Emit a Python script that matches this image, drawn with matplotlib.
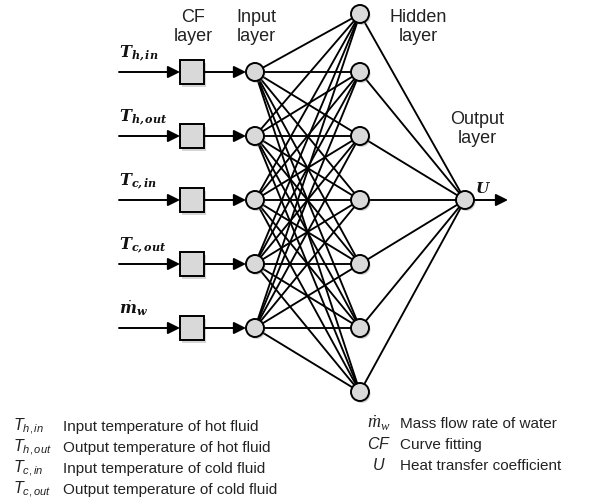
"""ANN schematic: CF layer -> input layer -> hidden layer -> output U"""

import matplotlib

matplotlib.use("Agg")
import matplotlib.pyplot as plt
from matplotlib.patches import Circle, Rectangle

plt.rcParams["font.family"] = ["Liberation Sans", "DejaVu Sans"]
plt.rcParams["mathtext.fontset"] = "custom"
plt.rcParams["mathtext.rm"] = "Liberation Sans"
plt.rcParams["mathtext.it"] = "Liberation Sans:italic"
plt.rcParams["mathtext.bf"] = "DejaVu Serif:italic:bold"
plt.rcParams["mathtext.sf"] = "Liberation Serif:italic"

# network structure
input_labels = [
    r"$\mathbf{T}_{\mathbf{h,in}}$",
    r"$\mathbf{T}_{\mathbf{h,out}}$",
    r"$\mathbf{T}_{\mathbf{c,in}}$",
    r"$\mathbf{T}_{\mathbf{c,out}}$",
    r"$\dot{\mathbf{m}}_{\mathbf{w}}$",
]
n_hidden = 7
output_label = r"$\mathbf{U}$"
layer_titles = [("CF", "layer"), ("Input", "layer"), ("Hidden", "layer"), ("Output", "layer")]

# legend
legend_left_sym = [r"$T_{h,in}$", r"$T_{h,out}$", r"$T_{c,in}$", r"$T_{c,out}$"]
legend_left_txt = [
    "Input temperature of hot fluid",
    "Output temperature of hot fluid",
    "Input temperature of cold fluid",
    "Output temperature of cold fluid",
]
legend_right_sym = [r"$\dot{\mathsf{m}}_{\mathsf{w}}$", r"$CF$", r"$U$"]
legend_right_txt = ["Mass flow rate of water", "Curve fitting", "Heat transfer coefficient"]

# layout (pixel units)
W, H = 608, 502
x_start, x_box, x_in, x_hid, x_out = 119, 192, 255, 360, 465
y_in0, dy_in = 73, 64
y_hid = [15, 73, 137, 201, 265, 329, 393]
y_out = 201
r = 9
box = 24
fill = "#d9d9d9"
lw = 1.35

fig = plt.figure(figsize=(W / 100, H / 100), dpi=100)
ax = fig.add_axes([0, 0, 1, 1])
ax.set_xlim(0, W)
ax.set_ylim(H, 0)
ax.axis("off")

y_in = [y_in0 + i * dy_in for i in range(len(input_labels))]

# connections
for yi in y_in:
    for yh in y_hid[:n_hidden]:
        ax.plot([x_in, x_hid], [yi, yh], color="black", lw=lw, zorder=1)
for yh in y_hid[:n_hidden]:
    ax.plot([x_hid, x_out], [yh, y_out], color="black", lw=lw, zorder=1)

arrow = dict(arrowstyle="-|>,head_length=0.6,head_width=0.3", color="black",
             lw=1.4, mutation_scale=12, shrinkA=0, shrinkB=0)


def node(x, y):
    ax.add_patch(Circle((x + 1.5, y + 2), r, facecolor="#888888", edgecolor="none",
                        alpha=0.35, zorder=2))
    ax.add_patch(Circle((x, y), r, facecolor=fill, edgecolor="black", lw=1.4, zorder=3))


for lab, yi in zip(input_labels, y_in):
    ax.annotate("", xy=(x_box - box / 2, yi), xytext=(x_start, yi), arrowprops=arrow, zorder=4)
    ax.add_patch(Rectangle((x_box - box / 2 + 1.5, yi - box / 2 + 2.5), box, box,
                           facecolor="#888888", edgecolor="none", alpha=0.35, zorder=2))
    ax.add_patch(Rectangle((x_box - box / 2, yi - box / 2), box, box, facecolor=fill,
                           edgecolor="black", lw=1.4, zorder=3))
    ax.annotate("", xy=(x_in - r, yi), xytext=(x_box + box / 2, yi), arrowprops=arrow, zorder=4)
    node(x_in, yi)
    ax.text(x_start, yi - 16, lab, fontsize=11.5, ha="left", va="baseline", color="#111111")

for yh in y_hid[:n_hidden]:
    node(x_hid, yh)
node(x_out, y_out)
ax.annotate("", xy=(508, y_out), xytext=(x_out + r, y_out), arrowprops=arrow, zorder=4)
ax.text(483, y_out - 8, output_label, fontsize=11, ha="center", va="baseline", color="#111111")

# layer titles
title_pos = [(193, 22), (256, 22), (418, 22), (477, 124)]
for (l1, l2), (tx, ty) in zip(layer_titles, title_pos):
    ax.text(tx, ty, l1, fontsize=13, ha="center", va="baseline", color="#222222")
    ax.text(tx, ty + 19, l2, fontsize=13, ha="center", va="baseline", color="#222222")

# legend
for i, (s, t) in enumerate(zip(legend_left_sym, legend_left_txt)):
    yb = 431 + 21 * i
    ax.text(13, yb, s, fontsize=11.5, ha="left", va="baseline", color="#222222")
    ax.text(63, yb, t, fontsize=11, ha="left", va="baseline", color="#222222")
sym_sizes = [13, 11.5, 11.5]
for i, (s, t) in enumerate(zip(legend_right_sym, legend_right_txt)):
    yb = 428 + 21 * i
    ax.text(379, yb, s, fontsize=sym_sizes[i], ha="center", va="baseline", color="#222222")
    ax.text(400, yb, t, fontsize=11, ha="left", va="baseline", color="#222222")

fig.savefig("out.png", dpi=100)
